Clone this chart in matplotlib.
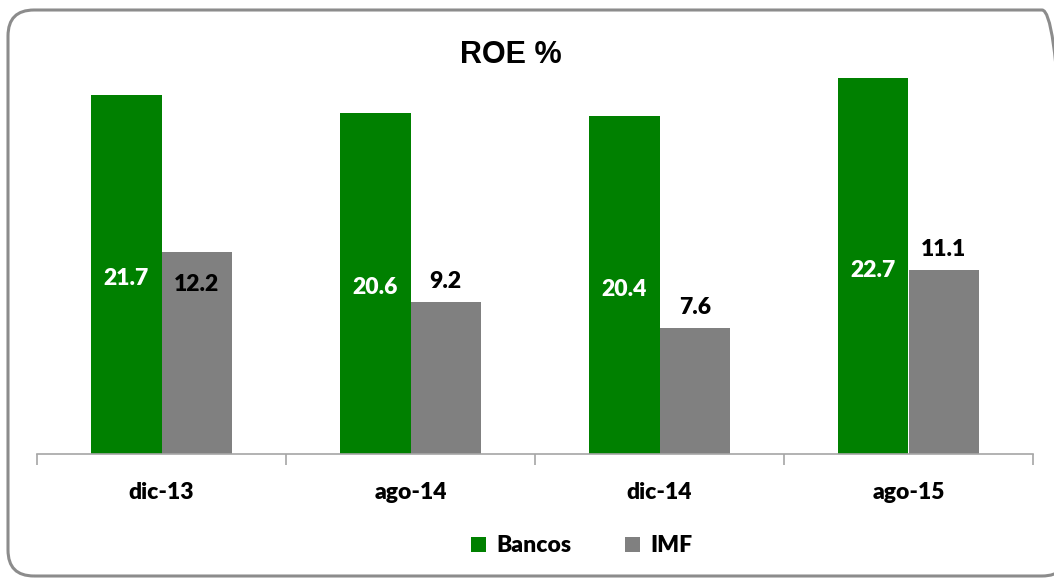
import matplotlib.pyplot as plt
from matplotlib.patches import FancyBboxPatch
from matplotlib.transforms import IdentityTransform

periodos = ['dic-13', 'ago-14', 'dic-14', 'ago-15']
bancos = [21.7, 20.6, 20.4, 22.7]
imf = [12.2, 9.2, 7.6, 11.1]
# vertical shift (in points) for the IMF value labels
imf_label_dy = [-31, 7, 7, 7]

verde = '#008000'
gris = '#808080'
fuente = 'Lato'

fig = plt.figure(figsize=(10.54, 5.78), dpi=100)
ax = fig.add_axes([37 / 1054, 124 / 578, 996 / 1054, 424 / 578])

w = 0.283
x = list(range(len(periodos)))
ax.bar([i - w / 2 for i in x], bancos, w, color=verde, label='Bancos')
ax.bar([i + w / 2 for i in x], imf, w, color=gris, label='IMF')

lbl_font = dict(family=fuente, fontsize=16.5, fontweight='heavy')
for i, v in enumerate(bancos):
    ax.annotate(f'{v:.1f}', (i - w / 2, v / 2), xytext=(0, -3), textcoords='offset points',
                ha='center', va='center', color='white', **lbl_font)
for i, v in enumerate(imf):
    ax.annotate(f'{v:.1f}', (i + w / 2, v), xytext=(0, imf_label_dy[i]), textcoords='offset points',
                ha='center', va='bottom', color='black', **lbl_font)

ax.set_xlim(-0.5, len(periodos) - 0.5)
ax.set_ylim(0, 25.6)
ax.set_yticks([])
for s in ['left', 'right', 'top']:
    ax.spines[s].set_visible(False)
ax.spines['bottom'].set_color('#a6a6a6')
ax.spines['bottom'].set_linewidth(1.2)

ax.set_xticks(x)
ax.set_xticklabels(periodos, family=fuente, fontsize=16.5, fontweight='heavy')
ax.tick_params(axis='x', which='major', length=0, pad=20)
ax.set_xticks([i - 0.5 for i in range(len(periodos) + 1)], minor=True)
ax.tick_params(axis='x', which='minor', length=8, color='#a6a6a6', width=1.2)

fig.text(511 / 1054, 1 - 55 / 578, 'ROE %', ha='center', va='center',
         family='Liberation Sans', fontsize=22, fontweight='bold')

leg = fig.legend(loc='center', bbox_to_anchor=(582 / 1054, 1 - 546 / 578), ncol=2, frameon=False,
                 prop=dict(family=fuente, size=16.5, weight='heavy'), handlelength=0.65,
                 handleheight=0.65, handletextpad=0.45, columnspacing=2.35)

# rounded outer border, drawn in pixel coordinates
frame = FancyBboxPatch((8, 2), 1060, 566, boxstyle='round,pad=0,rounding_size=26',
                       transform=IdentityTransform(), facecolor='none', edgecolor='#8c8c8c',
                       linewidth=2.2, clip_on=False)
fig.patches.append(frame)

fig.savefig('out.png', dpi=100)
